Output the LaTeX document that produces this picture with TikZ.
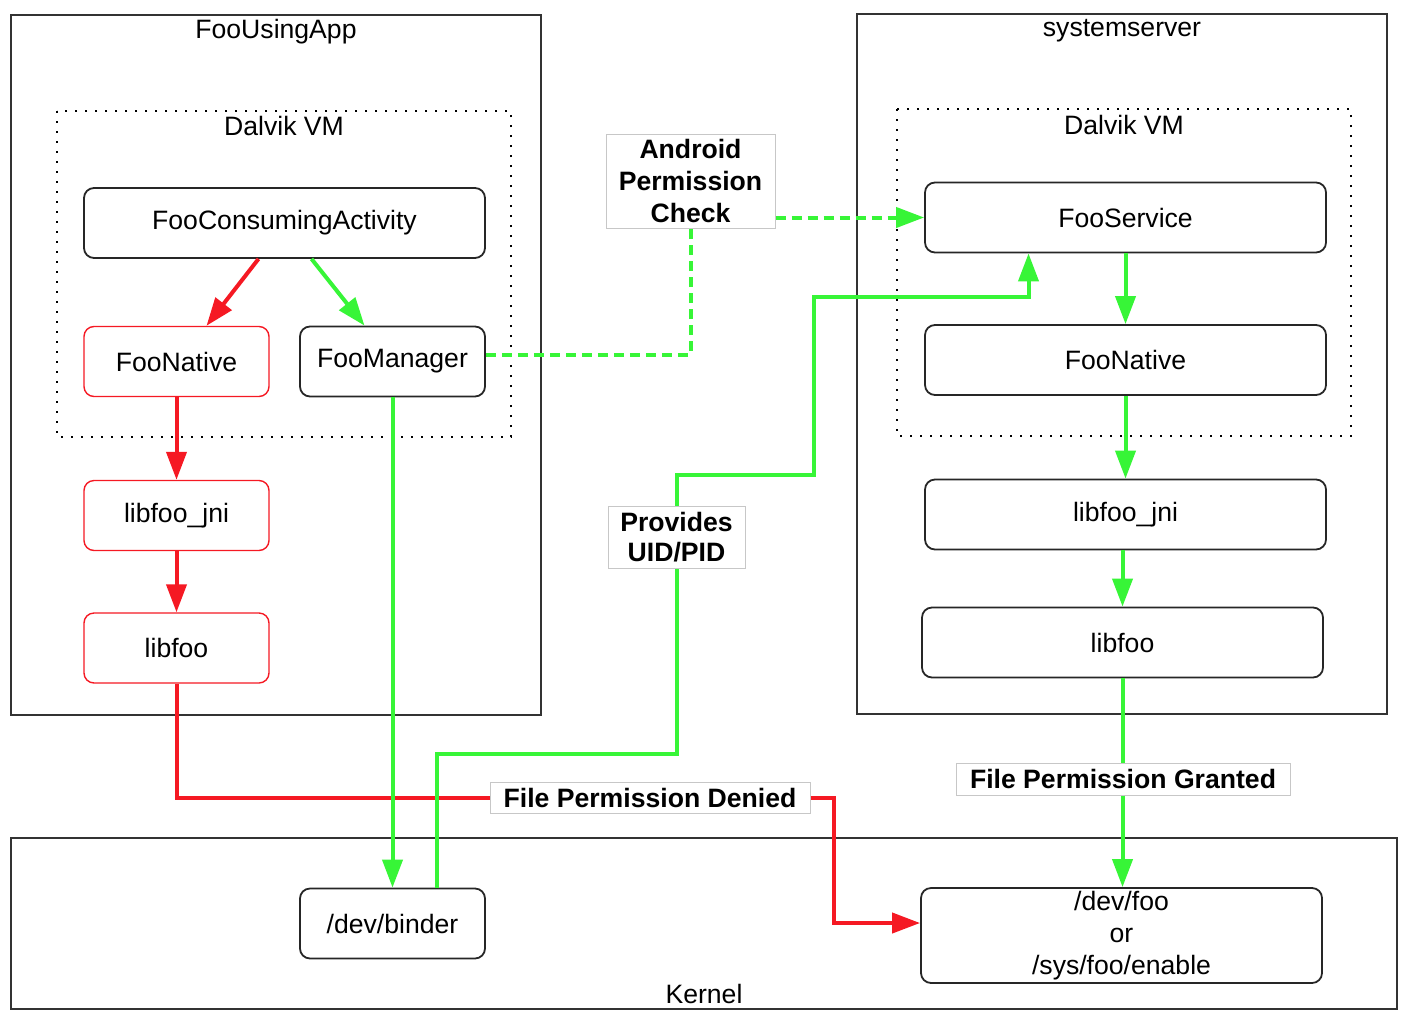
\documentclass[tikz,border=0pt]{standalone}
\usepackage{fontspec}
\setmainfont{Liberation Sans}
\usepackage{xcolor}
\usepackage{tikz}
\usetikzlibrary{positioning, arrows.meta}

\definecolor{fooRed}{RGB}{245,25,35}
\definecolor{fooGreen}{RGB}{55,245,55}
\newcommand{\diagfont}{\fontsize{13.3}{16}\selectfont}

\tikzset{
  box/.style={draw=black!85, line width=0.9pt, rounded corners=5pt, minimum height=35pt, inner sep=0pt, align=center},
  redbox/.style={box, draw=fooRed, line width=0.7pt},
  wide/.style={minimum width=200.5pt},
  narrow/.style={minimum width=92.5pt},
  tag/.style={draw=black!22, line width=0.5pt, fill=white, font=\diagfont\bfseries, align=center, inner sep=0pt},
  region/.style={draw=black!80, line width=1.2pt},
  vm/.style={draw=black, line width=0.9pt, dash pattern=on 1pt off 4pt},
  redline/.style={draw=fooRed, line width=2pt},
  greenline/.style={draw=fooGreen, line width=2pt},
  tip/.style={-{Triangle[length=14pt,width=10pt]}}
}

\begin{document}
\begin{tikzpicture}[x=0.5pt, y=-0.5pt, font=\diagfont]
\useasboundingbox (0,0) rectangle (1416,1028);

% containers
\draw[region] (11,15) rectangle (541,715);
\node (appname) at (276,32) {FooUsingApp};
\draw[region] (857,14) rectangle (1387,714);
\node (servername) at (1122,31) {systemserver};
\draw[region] (11,838) rectangle (1397,1009);
\node (kernelname) at (704,994) {Kernel};

\draw[vm] (57,111) rectangle (511,437);
\node (vmleft) at (284,126) {Dalvik VM};
\draw[vm] (897,109) rectangle (1351,436);
\node (vmright) at (1124,125) {Dalvik VM};

% app side
\node[box, wide] (act) at (284.5,223) {FooConsumingActivity};
\node[redbox, narrow] (native) at (176.5,361.5) {FooNative};
\node[box, narrow] (manager) at (392.5,361.5) {FooManager};
\node[redbox, narrow] (jni) at (176.5,515.5) {libfoo\_jni};
\node[redbox, narrow] (lib) at (176.5,648) {libfoo};

% server side
\node[box, wide] (service) at (1125.5,217.5) {FooService};
\node[box, wide] (snative) at (1125.5,360) {FooNative};
\node[box, wide] (sjni) at (1125.5,514.5) {libfoo\_jni};
\node[box, wide] (slib) at (1122.5,642.5) {libfoo};

% kernel side
\node[box, narrow] (binder) at (392.5,923.5) {/dev/binder};
\node[box, wide, minimum height=47.5pt] (devfoo) at (1121.5,935.5) {/dev/foo\\or\\/sys/foo/enable};

% labels
\node[tag, minimum width=84.5pt, minimum height=47pt] (perm) at (690.5,181) {Android\\Permission\\Check};
\node[tag, minimum width=68.5pt, minimum height=31pt] (uid) at (676.5,537) {Provides\\[-1pt]UID/PID};
\node[tag, minimum width=160pt, minimum height=15.5pt] (denied) at (650,797.5) {File Permission Denied};
\node[tag, minimum width=167pt, minimum height=16pt] (granted) at (1123,779) {File Permission Granted};

% red path
\draw[redline, tip] ([xshift=-13pt]act.south) -- ([xshift=15pt]native.north);
\draw[redline, tip] (native) -- (jni);
\draw[redline, tip] (jni) -- (lib);
\draw[redline] (lib.south) |- (denied.west);
\draw[redline, tip] (denied.east) -- ++(23,0) |- ([yshift=6.25pt]devfoo.west);

% green path
\draw[greenline, tip] ([xshift=13.5pt]act.south) -- ([xshift=-14pt]manager.north);
\draw[greenline, tip] (manager.south) -- (binder.north);
\draw[greenline] ([xshift=22pt]binder.north) -- ++(0,-134) -| (uid.south);
\draw[greenline, tip] (uid.north) -- ++(0,-31) -| (814,297) -| ([xshift=-48.5pt]service.south);
\draw[greenline, dash pattern=on 5pt off 3pt] ([yshift=3.5pt]manager.east) -| (perm.south);
\draw[greenline, dash pattern=on 5pt off 3pt, tip] (perm.east |- service.west) -- (service.west);
\draw[greenline, tip] (service) -- (snative);
\draw[greenline, tip] (snative) -- (sjni);
\draw[greenline, tip] (sjni.south -| slib) -- (slib.north);
\draw[greenline] (slib.south) -- (granted.north -| slib.south);
\draw[greenline, tip] (granted.south -| slib.south) -- (devfoo.north -| slib.south);
\end{tikzpicture}
\end{document}
